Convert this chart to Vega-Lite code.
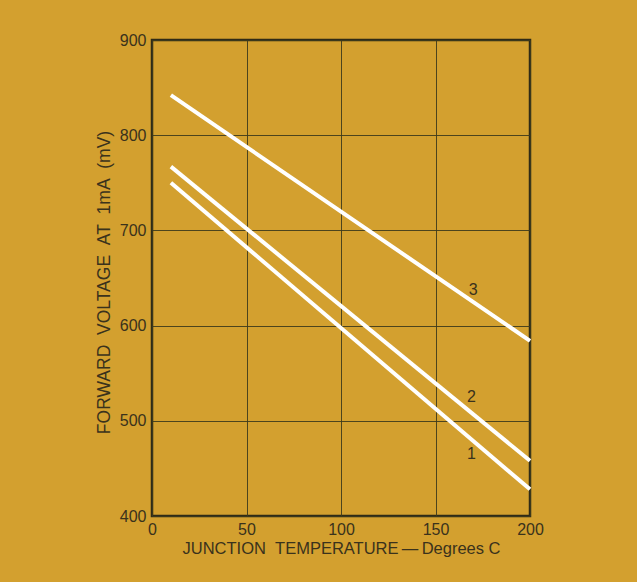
{
  "$schema": "https://vega.github.io/schema/vega-lite/v6.json",
  "autosize": "none",
  "width": 378,
  "height": 476,
  "padding": {"left": 152, "top": 40, "right": 107, "bottom": 66},
  "background": "#D3A02F",
  "config": {
    "view": {"stroke": "#2f2b17", "strokeWidth": 2.5, "fill": "#D3A02F"},
    "font": "Liberation Sans",
    "axis": {
      "labelFont": "Liberation Sans",
      "titleFont": "Liberation Sans",
      "labelColor": "#3a321c",
      "titleColor": "#3a321c",
      "labelFontSize": 16,
      "titleFontSize": 16,
      "titleFontWeight": "normal",
      "gridColor": "#3d3a1c",
      "gridWidth": 1,
      "gridOpacity": 0.9,
      "domain": false,
      "ticks": false
    }
  },
  "datasets": {
    "lines": [
      {"series": "1", "T": 10, "V": 750},
      {"series": "1", "T": 200, "V": 428},
      {"series": "2", "T": 10, "V": 767},
      {"series": "2", "T": 200, "V": 458},
      {"series": "3", "T": 10, "V": 842},
      {"series": "3", "T": 200, "V": 584}
    ],
    "labels": [
      {"series": "1", "T": 169, "V": 465},
      {"series": "2", "T": 169, "V": 525},
      {"series": "3", "T": 170, "V": 637}
    ]
  },
  "layer": [
    {
      "data": {"name": "lines"},
      "mark": {"type": "line", "color": "#ffffff", "strokeWidth": 4, "strokeCap": "butt"},
      "encoding": {
        "x": {
          "field": "T", "type": "quantitative",
          "scale": {"domain": [0, 200], "nice": false},
          "axis": {"values": [0, 50, 100, 150, 200], "labelPadding": 5, "title": "JUNCTION\u00a0\u00a0TEMPERATURE\u2009\u2014\u2009Degrees C", "titleFontSize": 16.5, "titlePadding": 3, "labelFlush": false}
        },
        "y": {
          "field": "V", "type": "quantitative",
          "scale": {"domain": [400, 900], "nice": false, "zero": false},
          "axis": {"values": [400, 500, 600, 700, 800, 900], "labelPadding": 6, "title": "FORWARD\u00a0\u00a0VOLTAGE\u00a0\u00a0AT\u00a0\u00a01mA\u00a0\u00a0(mV)", "titleFontSize": 17.5, "titlePadding": 6, "titleY": 242, "labelFlush": false}
        },
        "detail": {"field": "series"}
      }
    },
    {
      "data": {"name": "labels"},
      "mark": {"type": "text", "fontSize": 16, "color": "#3a321c", "font": "Liberation Sans"},
      "encoding": {
        "x": {"field": "T", "type": "quantitative"},
        "y": {"field": "V", "type": "quantitative"},
        "text": {"field": "series"}
      }
    }
  ]
}
